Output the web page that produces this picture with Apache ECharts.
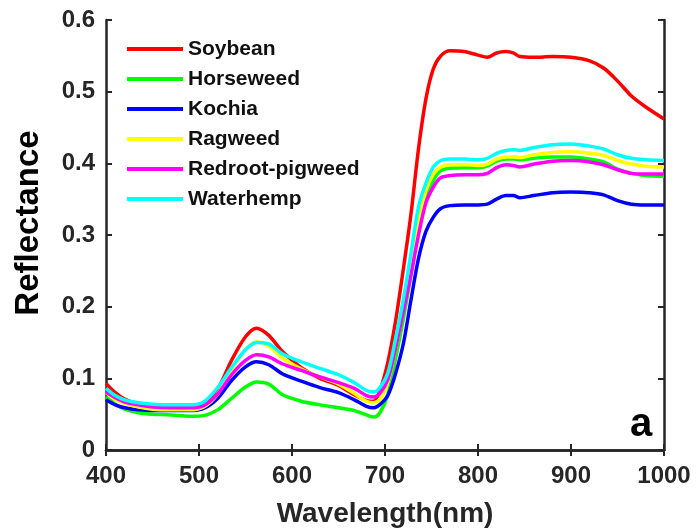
<!DOCTYPE html>
<html>
<head>
<meta charset="utf-8">
<script src="https://cdn.jsdelivr.net/npm/echarts@6/dist/echarts.min.js"></script>
<style>
  html, body { margin: 0; padding: 0; background: #fff; }
  #chart { width: 697px; height: 531px; }
</style>
</head>
<body>
<div id="chart"></div>
<script>
// Leaf reflectance spectra (wavelength in nm)
const wavelengths = [400, 410, 420, 435, 450, 470, 490, 505, 520, 535, 550, 562, 575, 590, 610, 630, 650, 667, 680, 688, 695, 703, 711, 720, 728, 736, 744, 752, 760, 770, 785, 800, 810, 820, 830, 838, 845, 860, 880, 900, 920, 935, 950, 965, 980, 1000];

const soybean = [0.093, 0.080, 0.071, 0.064, 0.061, 0.060, 0.061, 0.066, 0.085, 0.125, 0.158, 0.170, 0.160, 0.137, 0.115, 0.100, 0.090, 0.077, 0.069, 0.068, 0.085, 0.122, 0.177, 0.255, 0.330, 0.420, 0.490, 0.532, 0.550, 0.557, 0.556, 0.551, 0.548, 0.554, 0.556, 0.554, 0.549, 0.548, 0.549, 0.548, 0.543, 0.533, 0.515, 0.494, 0.479, 0.462];

const horseweed = [0.074, 0.064, 0.057, 0.052, 0.050, 0.049, 0.047, 0.048, 0.056, 0.072, 0.088, 0.095, 0.092, 0.077, 0.068, 0.063, 0.059, 0.055, 0.049, 0.046, 0.053, 0.077, 0.125, 0.185, 0.245, 0.305, 0.350, 0.376, 0.390, 0.393, 0.394, 0.394, 0.396, 0.403, 0.406, 0.406, 0.405, 0.407, 0.409, 0.409, 0.406, 0.402, 0.392, 0.386, 0.383, 0.382];

const kochia = [0.070, 0.063, 0.059, 0.056, 0.055, 0.055, 0.055, 0.058, 0.072, 0.097, 0.116, 0.123, 0.119, 0.106, 0.096, 0.087, 0.080, 0.070, 0.061, 0.059, 0.064, 0.076, 0.105, 0.150, 0.210, 0.267, 0.305, 0.325, 0.337, 0.341, 0.342, 0.342, 0.343, 0.350, 0.355, 0.355, 0.352, 0.355, 0.359, 0.360, 0.359, 0.356, 0.348, 0.343, 0.342, 0.342];

const ragweed = [0.080, 0.071, 0.065, 0.060, 0.057, 0.056, 0.056, 0.060, 0.078, 0.112, 0.140, 0.151, 0.145, 0.128, 0.113, 0.102, 0.092, 0.079, 0.068, 0.066, 0.072, 0.095, 0.140, 0.200, 0.265, 0.320, 0.362, 0.385, 0.395, 0.398, 0.398, 0.397, 0.399, 0.406, 0.409, 0.409, 0.408, 0.412, 0.415, 0.416, 0.414, 0.411, 0.404, 0.399, 0.396, 0.395];

const redrootPigweed = [0.081, 0.073, 0.067, 0.063, 0.060, 0.059, 0.059, 0.062, 0.078, 0.105, 0.125, 0.133, 0.130, 0.120, 0.111, 0.102, 0.094, 0.086, 0.076, 0.074, 0.080, 0.098, 0.140, 0.195, 0.245, 0.300, 0.345, 0.367, 0.380, 0.383, 0.384, 0.384, 0.386, 0.394, 0.398, 0.397, 0.395, 0.399, 0.403, 0.404, 0.402, 0.398, 0.391, 0.386, 0.385, 0.385];

const waterhemp = [0.086, 0.076, 0.070, 0.066, 0.064, 0.063, 0.063, 0.067, 0.087, 0.115, 0.140, 0.150, 0.148, 0.134, 0.123, 0.114, 0.105, 0.094, 0.083, 0.081, 0.088, 0.107, 0.153, 0.212, 0.275, 0.339, 0.372, 0.395, 0.404, 0.406, 0.406, 0.405, 0.407, 0.414, 0.418, 0.419, 0.418, 0.422, 0.426, 0.427, 0.424, 0.420, 0.412, 0.407, 0.405, 0.404];

const speciesNames = ['Soybean', 'Horseweed', 'Kochia', 'Ragweed', 'Redroot-pigweed', 'Waterhemp'];
const speciesValues = [soybean, horseweed, kochia, ragweed, redrootPigweed, waterhemp];
const speciesColors = ['#ff0000', '#00ff00', '#0000ff', '#ffff00', '#ff00ff', '#00ffff'];

const xTicks = [400, 500, 600, 700, 800, 900, 1000];
const yTicks = [0, 0.1, 0.2, 0.3, 0.4, 0.5, 0.6];

const axisColor = '#262626';
const FONT = 'Liberation Sans, Arial, sans-serif';

const chart = echarts.init(document.getElementById('chart'), null, { renderer: 'canvas' });

const series = speciesNames.map((name, i) => ({
  name: name,
  type: 'line',
  xAxisIndex: 0,
  yAxisIndex: 0,
  data: wavelengths.map((w, k) => [w, speciesValues[i][k]]),
  symbol: 'none',
  smooth: 0.3,
  lineStyle: { color: speciesColors[i], width: 3.5 },
  itemStyle: { color: speciesColors[i] },
  z: 3
}));

function xAxisBase(extra) {
  return Object.assign({
    type: 'value',
    min: xTicks[0],
    max: xTicks[xTicks.length - 1],
    interval: xTicks[1] - xTicks[0],
    splitLine: { show: false },
    axisLine: { show: true, lineStyle: { color: axisColor, width: 2.5 } },
    axisTick: { show: true, inside: true, length: 6, lineStyle: { color: axisColor, width: 2 } }
  }, extra);
}
function yAxisBase(extra) {
  return Object.assign({
    type: 'value',
    min: yTicks[0],
    max: yTicks[yTicks.length - 1],
    interval: yTicks[1] - yTicks[0],
    splitLine: { show: false },
    axisLine: { show: true, lineStyle: { color: axisColor, width: 2.5 } },
    axisTick: { show: true, inside: true, length: 6, lineStyle: { color: axisColor, width: 2 } }
  }, extra);
}

chart.setOption({
  animation: false,
  backgroundColor: '#ffffff',
  grid: { left: 106, right: 33, top: 20, bottom: 81, containLabel: false, outerBoundsMode: 'none' },
  legend: {
    data: speciesNames,
    orient: 'vertical',
    left: 122,
    top: 32,
    icon: 'rect',
    itemWidth: 56,
    itemHeight: 4,
    itemGap: 6,
    selectedMode: false,
    textStyle: { fontFamily: FONT, fontWeight: 'bold', fontSize: 21, color: '#111', lineHeight: 24 }
  },
  xAxis: [
    xAxisBase({
      position: 'bottom',
      name: 'Wavelength(nm)',
      nameLocation: 'middle',
      nameGap: 50,
      nameTextStyle: { fontFamily: FONT, fontWeight: 'bold', fontSize: 28, color: axisColor },
      axisLabel: {
        show: true, margin: 14, fontFamily: FONT, fontWeight: 'bold', fontSize: 24, color: axisColor,
        formatter: v => String(v)
      }
    }),
    xAxisBase({ position: 'top', axisLabel: { show: false } })
  ],
  yAxis: [
    yAxisBase({
      position: 'left',
      axisLabel: {
        show: true, margin: 11, fontFamily: FONT, fontWeight: 'bold', fontSize: 24, color: axisColor,
        formatter: v => (v === 0 ? '0' : v.toFixed(1))
      }
    }),
    yAxisBase({ position: 'right', axisLabel: { show: false } })
  ],
  graphic: [
    {
      type: 'text',
      x: 29,
      y: 223,
      rotation: Math.PI / 2,
      style: {
        text: 'Reflectance', fontFamily: FONT, fontWeight: 'bold', fontSize: 33, fill: '#000',
        align: 'center', verticalAlign: 'middle'
      }
    },
    {
      type: 'text',
      left: 630,
      top: 405,
      style: { text: 'a', fontFamily: FONT, fontWeight: 'bold', fontSize: 40, fill: '#000' }
    }
  ],
  series: series
});
</script>
</body>
</html>
